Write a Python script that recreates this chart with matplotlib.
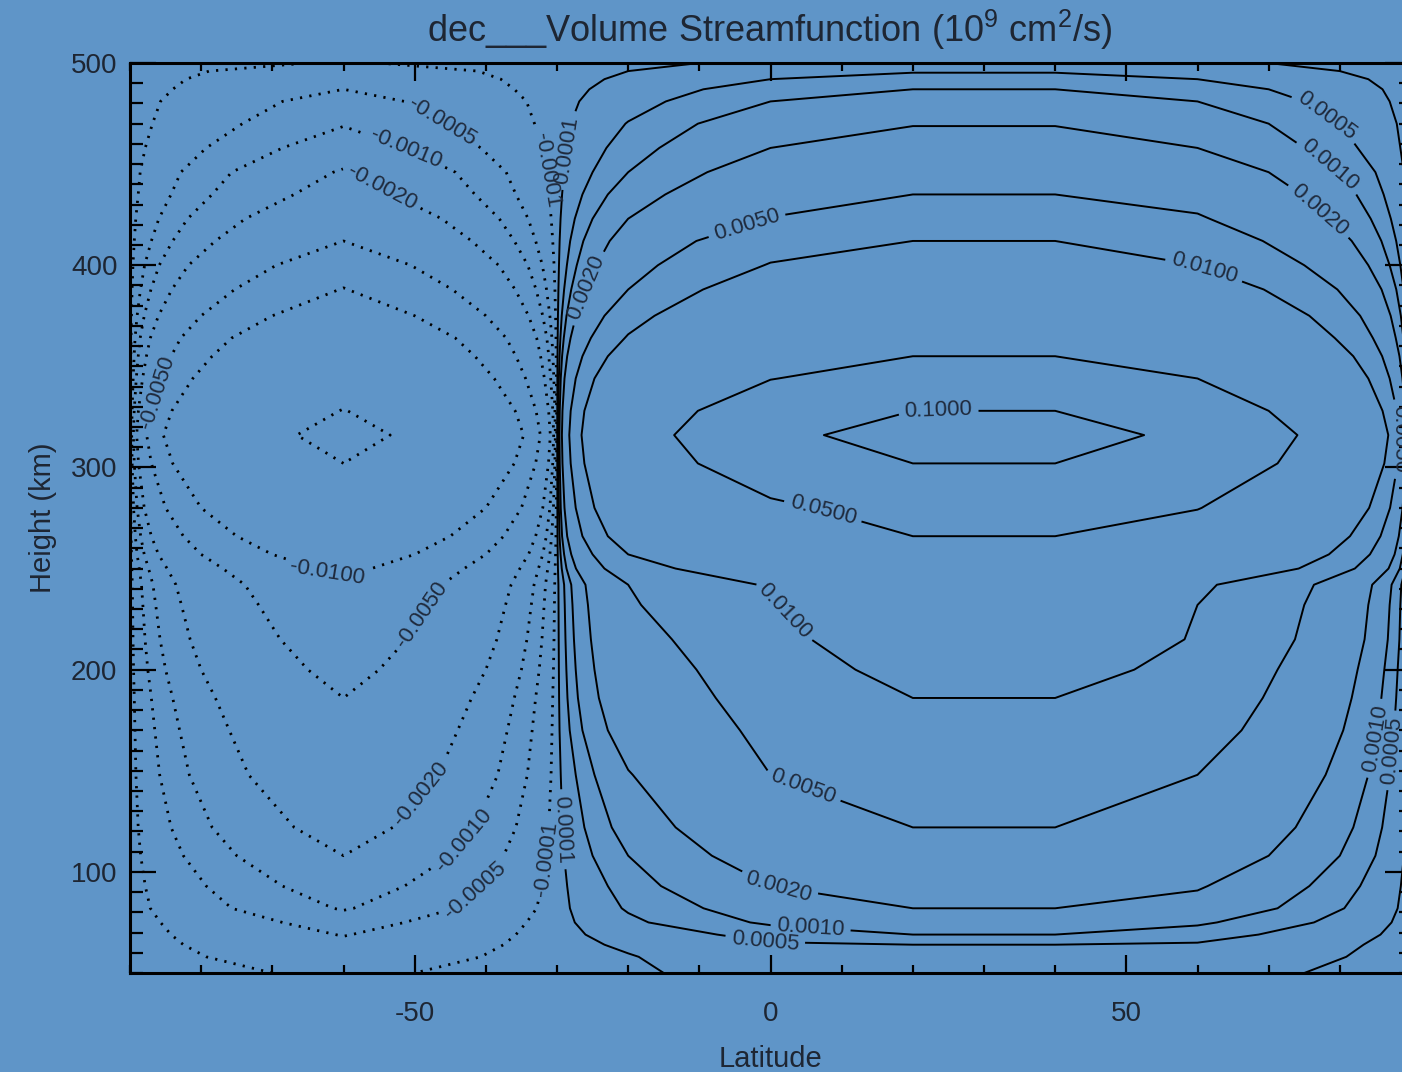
import numpy as np
import matplotlib
matplotlib.use("Agg")
import matplotlib.pyplot as plt
from matplotlib.ticker import MultipleLocator

plt.rcParams['font.family'] = ['Liberation Sans', 'DejaVu Sans']
plt.rcParams['mathtext.fontset'] = 'custom'
plt.rcParams['mathtext.rm'] = 'Liberation Sans'
plt.rcParams['mathtext.it'] = 'Liberation Sans:italic'
plt.rcParams['axes.unicode_minus'] = False

# ---------------- data ----------------
lat = [-90, -60, -30, -20, 0, 20, 40, 60, 90]
height = [50, 58, 64, 69, 75, 82, 93, 108, 122, 148, 170, 186, 200, 215, 232,
          242, 250, 257, 266, 280, 302, 316, 328, 344, 355, 364, 375, 388, 400,
          412, 423, 435, 446, 458, 470, 481, 487, 492, 496, 500]

psi_m90 = [0.0] * 40
psi_m30 = [0.0] * 40
psi_90 = [0.0] * 40

psi_m60 = [-0.00015, -0.00028, -0.0004, -0.00052, -0.0007, -0.00105, -0.0014, -0.002,
           -0.0026, -0.0036, -0.0043, -0.005, -0.006, -0.0071, -0.0083, -0.0093,
           -0.0115, -0.015, -0.020, -0.030, -0.050, -0.064, -0.051, -0.034, -0.026,
           -0.021, -0.015, -0.0102, -0.0073, -0.005, -0.0037, -0.0026, -0.0021,
           -0.0014, -0.00095, -0.0007, -0.0005, -0.00038, -0.00027, -0.00012]

psi_m20 = [0.00006, 0.00008, 0.00015, 0.00025, 0.0004, 0.00055, 0.0007, 0.001,
           0.0013, 0.0019, 0.0028, 0.0034, 0.0038, 0.0042, 0.0046, 0.005,
           0.0075, 0.010, 0.014, 0.019, 0.026, 0.029, 0.026, 0.019, 0.014,
           0.0105, 0.0075, 0.005, 0.0036, 0.0027, 0.002, 0.0014, 0.001,
           0.00072, 0.00052, 0.00032, 0.00022, 0.00015, 0.0001, 0.00005]

psi_0 = [0.00022, 0.00035, 0.00045, 0.00065, 0.0011, 0.0014, 0.002, 0.0027,
         0.0034, 0.005, 0.0056, 0.006, 0.0063, 0.0068, 0.009, 0.0105,
         0.015, 0.021, 0.029, 0.043, 0.075, 0.094, 0.075, 0.049, 0.036,
         0.028, 0.021, 0.0145, 0.0103, 0.0075, 0.0051, 0.0037, 0.0028,
         0.002, 0.0015, 0.001, 0.00075, 0.0005, 0.00032, 0.00015]

psi_20 = [0.0002, 0.00035, 0.0005, 0.001, 0.0015, 0.002, 0.0026, 0.0037,
          0.005, 0.0068, 0.0086, 0.010, 0.0125, 0.018, 0.026, 0.032,
          0.037, 0.042, 0.050, 0.066, 0.100, 0.110, 0.100, 0.067, 0.050,
          0.038, 0.027, 0.019, 0.014, 0.010, 0.0072, 0.005, 0.0039,
          0.0029, 0.0019, 0.0013, 0.001, 0.0007, 0.00045, 0.0003]

psi_40 = [0.0002, 0.00035, 0.0005, 0.001, 0.0015, 0.002, 0.0026, 0.0037,
          0.005, 0.0068, 0.0086, 0.010, 0.0125, 0.018, 0.026, 0.032,
          0.037, 0.042, 0.050, 0.066, 0.100, 0.110, 0.100, 0.067, 0.050,
          0.038, 0.027, 0.019, 0.014, 0.010, 0.0072, 0.005, 0.0039,
          0.0029, 0.0019, 0.0013, 0.001, 0.0007, 0.00045, 0.0003]

psi_60 = [0.0002, 0.00033, 0.00045, 0.0007, 0.0011, 0.0016, 0.0021, 0.003,
          0.0037, 0.005, 0.0063, 0.0072, 0.008, 0.0092, 0.010, 0.011,
          0.019, 0.026, 0.035, 0.051, 0.080, 0.094, 0.075, 0.050, 0.037,
          0.028, 0.021, 0.0145, 0.010, 0.0072, 0.0053, 0.0039, 0.003,
          0.002, 0.0015, 0.001, 0.00075, 0.0005, 0.0003, 0.00015]

levels_neg = [-0.05, -0.01, -0.005, -0.002, -0.001, -0.0005, -0.0001]
levels_pos = [0.0001, 0.0005, 0.001, 0.002, 0.005, 0.01, 0.05, 0.1]

x_ticks = [-50, 0, 50]
y_ticks = [100, 200, 300, 400, 500]

title = 'dec___Volume Streamfunction (10$^9$ cm$^2$/s)'

# label placement (layout)
label_pos = {
    0.1: [(23.6, 328)],
    0.05: [(7, 274)],
    0.01: [(61, 399), (1.1, 226)],
    0.005: [(-3.2, 418.5), (4.2, 138.5), (88.4, 314)],
    0.002: [(1.1, 91.6), (77.2, 427.4), (-25.3, 388)],
    0.001: [(5.6, 70.4), (78.6, 449.6), (85, 166)],
    0.0005: [(-0.7, 67), (78, 473), (87.5, 160)],
    0.0001: [(-28.8, 457), (-29.5, 121)],
    -0.0005: [(-45.6, 474), (-39.3, 81.7)],
    -0.001: [(-51.5, 456), (-39.7, 105)],
    -0.002: [(-54.8, 437), (-47, 132)],
    -0.005: [(-49, 227), (-87, 338)],
    -0.01: [(-62.5, 246)],
    -0.0001: [(-31.2, 447), (-30.6, 106)],
}

# ---------------- plot ----------------
bg = '#5f95c8'
tc = '#1e2633'
lc = '#1f2a3c'

Z = np.column_stack([psi_m90, psi_m60, psi_m30, psi_m20, psi_0,
                     psi_20, psi_40, psi_60, psi_90])

fig = plt.figure(figsize=(14.02, 10.72), dpi=100, facecolor=bg)
ax = fig.add_axes([130 / 1402, (1072 - 973) / 1072, (1411 - 130) / 1402, (973 - 63) / 1072])
ax.set_facecolor(bg)

for lev in levels_neg + levels_pos:
    if lev < 0:
        cs = ax.contour(lat, height, Z, levels=[lev], colors='black',
                        linewidths=2.0, linestyles=[(0, (0.8, 2.6))])
    else:
        cs = ax.contour(lat, height, Z, levels=[lev], colors='black',
                        linewidths=1.4, linestyles='solid')
    pts = label_pos.get(lev)
    if pts:
        ax.clabel(cs, manual=pts, fmt='%.4f', fontsize=16,
                  colors=lc, inline=True, inline_spacing=6)

ax.set_xlim(-90, 90)
ax.set_ylim(50, 500)
ax.set_xticks(x_ticks)
ax.set_yticks(y_ticks)
ax.xaxis.set_minor_locator(MultipleLocator(10))
ax.yaxis.set_minor_locator(MultipleLocator(10))
ax.tick_params(which='both', direction='in', top=True, right=True,
               labelsize=20, labelcolor=tc, color='black', width=1.6)
ax.tick_params(axis='x', which='major', length=13, pad=20)
ax.tick_params(axis='x', which='minor', length=6)
ax.tick_params(axis='y', which='major', length=19, pad=9)
ax.tick_params(axis='y', which='minor', length=9)
for s in ax.spines.values():
    s.set_linewidth(2.2)

ax.set_xlabel('Latitude', fontsize=21, color=tc, labelpad=13)
ax.set_ylabel('Height (km)', fontsize=21, color=tc, labelpad=10)
fig.text(770 / 1402, 1 - 30 / 1072, title, ha='center', va='center',
         fontsize=26, color=tc)

fig.savefig('out.png', dpi=100, facecolor=bg)
